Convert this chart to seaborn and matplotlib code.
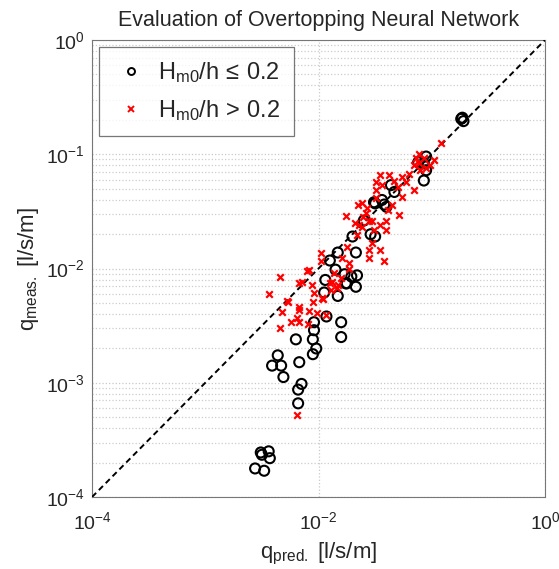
import numpy as np
import pandas as pd
import matplotlib
matplotlib.use("Agg")
import matplotlib.pyplot as plt
import seaborn as sns
from matplotlib.lines import Line2D
from matplotlib.ticker import LogLocator, NullFormatter

# log10 values
low_log_pred = [-2.51, -2.44, -2.43, -2.50, -2.56, -2.48,
                -2.15, -2.18, -2.18, -2.31,
                -1.94, -1.95, -1.83, -1.76,
                -2.04, -2.04, -1.93, -1.80, -1.80,
                -2.20, -2.05, -2.02, -2.05, -2.36, -2.41, -2.33, -2.17,
                -1.50, -1.42, -1.70, -1.54, -1.50, -1.83, -1.67, -1.90,
                -1.85, -1.77, -1.71, -1.66, -1.75, -1.67,
                -0.73, -0.72, -0.74, -1.05, -1.07, -1.05, -1.07,
                -1.36, -1.33, -1.51, -1.44, -1.40, -1.12, -1.60]
low_log_meas = [-3.61, -3.60, -3.66, -3.63, -3.75, -3.77,
                -3.01, -3.06, -3.18, -2.95,
                -2.10, -2.21, -2.24, -2.13,
                -2.47, -2.54, -2.42, -2.47, -2.60,
                -2.62, -2.62, -2.70, -2.75, -2.76, -2.85, -2.85, -2.82,
                -1.43, -1.44, -1.72, -1.70, -1.72, -1.86, -1.86, -1.93,
                -2.01, -2.05, -2.07, -2.06, -2.13, -2.16,
                -0.68, -0.71, -0.69, -1.02, -1.08, -1.14, -1.23,
                -1.27, -1.33, -1.42, -1.40, -1.46, -1.07, -1.58]

high_log_pred = [-2.19,
                 -2.34, -2.44, -2.17, -2.06, -2.04, -2.27, -2.05, -1.96, -2.32, -2.17,
                 -2.08, -2.01, -2.19, -2.24, -2.17, -1.93, -2.09, -2.34, -1.88, -1.83,
                 -1.86, -2.10,
                 -1.76, -1.65, -1.58, -1.53, -1.46, -1.40, -1.64, -1.53, -1.55, -1.46,
                 -1.42, -1.55, -1.75, -1.98, -1.98, -1.79, -1.73, -1.73, -2.08, -2.15,
                 -1.80, -1.90, -1.89, -1.84, -1.97, -2.17, -2.28,
                 -0.92, -1.14, -1.11, -1.07, -1.02, -0.98, -1.16, -1.10, -1.46, -1.38,
                 -1.49, -1.26, -1.23, -1.16, -1.26, -1.49, -1.49, -1.62, -1.39, -1.29,
                 -1.61, -1.55, -1.40, -1.62, -1.51, -1.66, -1.33, -1.30, -1.44, -1.35,
                 -1.57, -1.68, -1.20, -1.11, -1.05]
high_log_meas = [-3.28,
                 -2.07, -2.22, -2.13, -2.14, -2.21, -2.29, -2.29, -2.27, -2.38, -2.36,
                 -2.37, -2.39, -2.43, -2.47, -2.47, -2.41, -2.49, -2.52, -2.12, -2.14,
                 -2.04, -2.02,
                 -1.54, -1.44, -1.51, -1.58, -1.62, -1.66, -1.62, -1.78, -1.84, -1.84,
                 -1.93, -1.91, -1.81, -1.86, -1.93, -1.91, -1.95, -2.00, -2.01, -2.12,
                 -2.08, -2.13, -2.19, -2.17, -2.26, -2.34, -2.28,
                 -0.90, -1.03, -1.08, -1.03, -1.09, -1.05, -1.09, -1.14, -1.18, -1.18,
                 -1.24, -1.20, -1.24, -1.31, -1.37, -1.31, -1.38, -1.43, -1.49, -1.53,
                 -1.55, -1.58, -1.58, -1.64, -1.66, -1.71, -1.23, -1.29, -1.27, -1.44,
                 -1.47, -1.60, -1.17, -1.00, -1.12]

label_low = r'$\mathregular{H_{m0}/h \/ \leq \/ 0.2}$'
label_high = r'$\mathregular{H_{m0}/h \/ > \/ 0.2}$'
title = "Evaluation of Overtopping Neural Network"
xlabel = r'$\mathregular{q_{pred.}}$ [l/s/m]'
ylabel = r'$\mathregular{q_{meas.}}$ [l/s/m]'

df_low = pd.DataFrame({"pred": 10.0 ** np.array(low_log_pred),
                       "meas": 10.0 ** np.array(low_log_meas)})
df_high = pd.DataFrame({"pred": 10.0 ** np.array(high_log_pred),
                        "meas": 10.0 ** np.array(high_log_meas)})

sns.set_style("white")
plt.rcParams['font.family'] = ['Liberation Sans', 'DejaVu Sans']
plt.rcParams['mathtext.fontset'] = 'custom'
plt.rcParams['mathtext.rm'] = 'Liberation Sans'
plt.rcParams['mathtext.it'] = 'Liberation Sans:italic'
plt.rcParams['mathtext.bf'] = 'Liberation Sans:bold'

fig = plt.figure(figsize=(5.59, 5.69), dpi=100)
ax = fig.add_axes([0.1646, 0.1265, 0.8104, 0.8032])

ax.set_xscale('log')
ax.set_yscale('log')
ax.set_xlim(1e-4, 1)
ax.set_ylim(1e-4, 1)

ax.set_xticks([1e-4, 1e-2, 1])
ax.xaxis.set_minor_locator(plt.NullLocator())
ax.set_yticks([1e-4, 1e-3, 1e-2, 1e-1, 1])
ax.yaxis.set_minor_locator(LogLocator(base=10, subs=np.arange(2, 10)))
ax.yaxis.set_minor_formatter(NullFormatter())
ax.grid(True, which='major', axis='both', color='#c8c8c8', linestyle=':', linewidth=0.9)
ax.grid(True, which='minor', axis='y', color='#cccccc', linestyle=':', linewidth=0.9)
ax.set_axisbelow(True)

ax.plot([1e-4, 1], [1e-4, 1], color='black', linestyle=(0, (3, 2)), linewidth=1.4, zorder=3)

sns.scatterplot(data=df_low, x="pred", y="meas", ax=ax, marker='o', s=52,
                facecolor='none', edgecolor='black', linewidth=1.5, zorder=4)
sns.scatterplot(data=df_high, x="pred", y="meas", ax=ax, marker='x', s=22,
                color='red', linewidth=1.6, zorder=5)

ax.tick_params(axis='both', which='major', direction='in', length=4, labelsize=14,
               color='#666666')
ax.tick_params(axis='x', which='major', pad=10)
ax.tick_params(axis='y', which='major', pad=5)
ax.tick_params(axis='y', which='minor', direction='in', length=2, color='#666666')
for sp in ax.spines.values():
    sp.set_color('#777777')
    sp.set_linewidth(0.8)

ax.set_title(title, fontsize=15.5, pad=10)
ax.set_xlabel(xlabel, fontsize=16, labelpad=6)
ax.set_ylabel(ylabel, fontsize=16, labelpad=4)

handles = [Line2D([], [], marker='o', linestyle='none', markerfacecolor='none',
                  markeredgecolor='black', markersize=5, markeredgewidth=1.4),
           Line2D([], [], marker='x', linestyle='none', color='red',
                  markersize=4, markeredgewidth=1.4)]
leg = ax.legend(handles, [label_low, label_high], loc='upper left', fontsize=17,
                frameon=True, fancybox=False, edgecolor='#555555',
                borderpad=0.55, handletextpad=0.35, labelspacing=0.55,
                borderaxespad=0.3, handlelength=1.6)
leg.get_frame().set_linewidth(0.9)

fig.savefig("out.png", dpi=100)
